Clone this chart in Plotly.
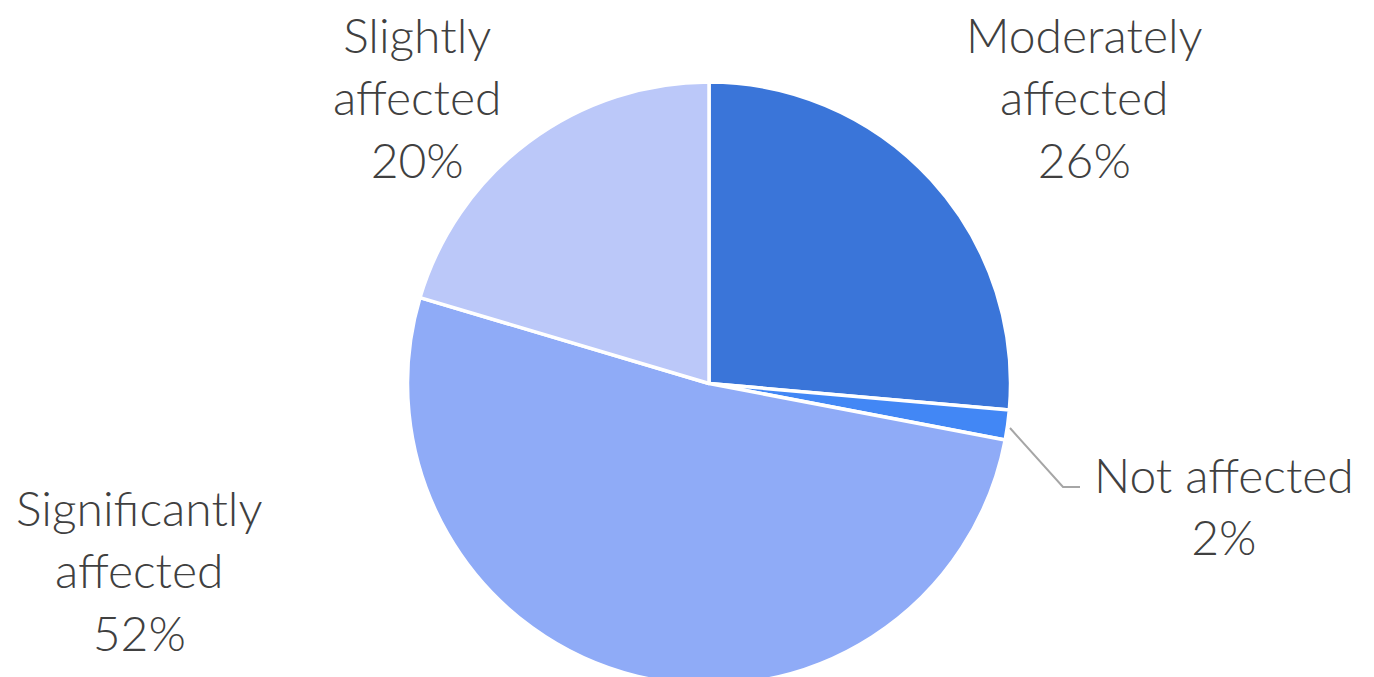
import plotly.graph_objects as go

# ---- data ----
categories = ["Moderately affected", "Not affected", "Significantly affected", "Slightly affected"]
values = [26.4, 1.6, 51.6, 20.4]
colors = ["#3A75D9", "#4287F5", "#8FABF7", "#BBC8F9"]

# ---- layout helpers (label placement in page pixels of the 1374x677 window) ----
W, H = 1374, 677
OFF = 8            # page body margin
T = 74             # top margin of the figure
label_breaks = ["Moderately<br>affected", "Not affected", "Significantly<br>affected", "Slightly<br>affected"]
label_pos = [(1084, 97), (1224, 505), (139, 570), (417, 97)]


def px2paper(px, py):
    plot_h = H - T
    return (px - OFF) / W, (OFF + H - py) / plot_h


total = sum(values)
fig = go.Figure(go.Pie(
    labels=categories,
    values=values,
    sort=False,
    direction="clockwise",
    rotation=0,
    marker=dict(colors=colors, line=dict(color="white", width=3.5)),
    textinfo="none",
    hoverinfo="label+percent",
    domain=dict(x=[0.2, 0.8204], y=[0, 1]),
    showlegend=False,
))

for name, (px, py), v in zip(label_breaks, label_pos, values):
    pct = round(v / total * 100)
    xp, yp = px2paper(px, py)
    fig.add_annotation(
        x=xp, y=yp, xref="paper", yref="paper",
        text=f"{name}<br>{pct}%", showarrow=False,
        xanchor="center", yanchor="middle", align="center",
        font=dict(family="Lato, 'Noto Sans', sans-serif", size=48, color="#404040", weight=300),
    )

# leader line for the small slice
pts = [px2paper(1010, 428), px2paper(1063, 487), px2paper(1080, 487)]
fig.add_shape(
    type="path", xref="paper", yref="paper",
    path="M {},{} L {},{} L {},{}".format(*[c for p in pts for c in p]),
    line=dict(color="#A6A6A6", width=2),
)

fig.update_layout(
    width=W, height=H,
    margin=dict(l=0, r=0, t=T, b=0),
    paper_bgcolor="white", plot_bgcolor="white",
)

fig.write_html("out.html")
